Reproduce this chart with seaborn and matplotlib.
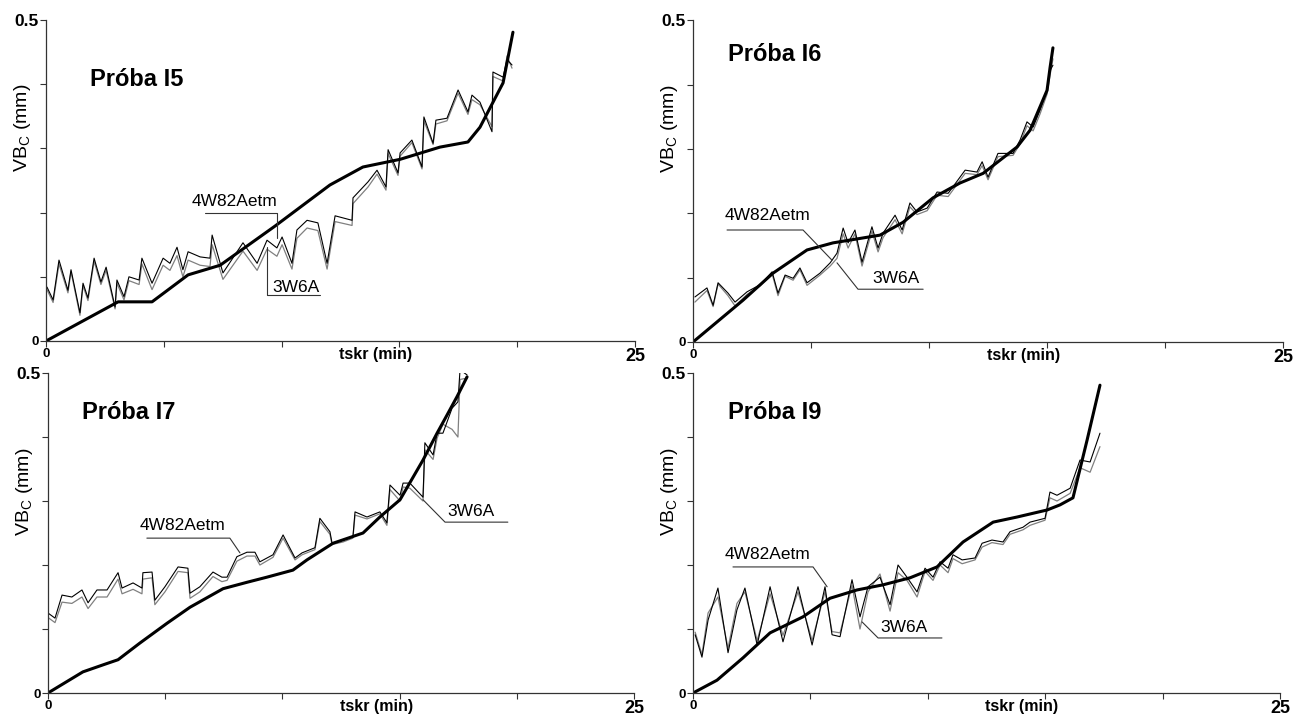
# Tool wear VB_C vs cutting time - measured vs two network models (4W82Aetm, 3W6A)

import matplotlib
matplotlib.use('Agg')
import matplotlib.pyplot as plt
import seaborn as sns

# ---- data: Próba I5 ----
i5_t_meas = [0, 3.06, 4.5, 6.03, 7.39, 9.72, 12.05, 13.45, 15.03, 16.72, 17.91, 18.42, 19.4, 19.82]
i5_vb_meas = [0, 0.061, 0.061, 0.103, 0.118, 0.179, 0.243, 0.271, 0.283, 0.302, 0.310, 0.333, 0.402, 0.481]
i5_t_model = [0.04, 0.30, 0.55, 0.93, 1.06, 1.44, 1.57, 1.78, 2.04, 2.33, 2.55, 2.93, 3.01, 3.31, 3.52,
              3.95, 4.07, 4.50, 4.97, 5.26, 5.56, 5.81, 6.03, 6.54, 6.96, 7.05, 7.51, 8.36, 8.96, 9.38,
              9.80, 10.02, 10.44, 10.65, 11.08, 11.54, 11.93, 12.27, 12.99, 13.03, 13.67, 14.05, 14.43,
              14.52, 14.94, 15.03, 15.53, 15.96, 16.04, 16.43, 16.55, 17.02, 17.49, 17.91, 18.08, 18.42,
              18.93, 18.97, 19.40, 19.57, 19.78]
i5_vb_4w = [0.084, 0.064, 0.126, 0.079, 0.111, 0.044, 0.090, 0.067, 0.129, 0.092, 0.115, 0.053, 0.095,
            0.069, 0.100, 0.095, 0.129, 0.090, 0.129, 0.121, 0.146, 0.111, 0.139, 0.131, 0.129, 0.165,
            0.106, 0.153, 0.121, 0.157, 0.145, 0.162, 0.121, 0.173, 0.188, 0.184, 0.121, 0.195, 0.188,
            0.223, 0.248, 0.266, 0.240, 0.298, 0.262, 0.293, 0.313, 0.271, 0.349, 0.308, 0.344, 0.347,
            0.391, 0.357, 0.383, 0.372, 0.326, 0.419, 0.411, 0.438, 0.430]
i5_vb_3w = [0.080, 0.060, 0.120, 0.075, 0.108, 0.040, 0.086, 0.063, 0.124, 0.088, 0.110, 0.050, 0.090,
            0.064, 0.094, 0.088, 0.120, 0.080, 0.118, 0.110, 0.133, 0.100, 0.126, 0.118, 0.116, 0.150,
            0.096, 0.140, 0.110, 0.143, 0.132, 0.150, 0.112, 0.160, 0.176, 0.172, 0.112, 0.186, 0.180,
            0.214, 0.240, 0.260, 0.235, 0.292, 0.258, 0.288, 0.309, 0.268, 0.343, 0.306, 0.338, 0.343,
            0.386, 0.353, 0.376, 0.368, 0.334, 0.412, 0.405, 0.444, 0.425]

# ---- data: Próba I6 ----
i6_t_meas = [0, 2.12, 3.39, 4.83, 5.93, 7.92, 8.90, 10.17, 11.31, 12.29, 13.73, 14.28, 15.0, 15.13, 15.25]
i6_vb_meas = [0, 0.065, 0.107, 0.143, 0.154, 0.166, 0.186, 0.224, 0.247, 0.262, 0.303, 0.329, 0.391, 0.427, 0.457]
i6_t_model = [0.08, 0.59, 0.85, 1.06, 1.48, 1.78, 2.29, 2.84, 3.35, 3.60, 3.90, 4.24, 4.53, 4.83, 5.38,
              5.81, 6.10, 6.36, 6.57, 6.86, 7.16, 7.58, 7.84, 8.05, 8.56, 8.86, 9.19, 9.49, 9.92, 10.34,
              10.81, 11.53, 12.03, 12.25, 12.50, 12.92, 13.56, 13.86, 14.15, 14.41, 14.70, 15.0, 15.13, 15.25]
i6_vb_4w = [0.070, 0.084, 0.057, 0.092, 0.076, 0.062, 0.078, 0.089, 0.109, 0.076, 0.104, 0.099, 0.115,
            0.092, 0.107, 0.123, 0.138, 0.177, 0.154, 0.174, 0.124, 0.179, 0.146, 0.169, 0.197, 0.174,
            0.216, 0.202, 0.208, 0.233, 0.231, 0.267, 0.264, 0.280, 0.256, 0.293, 0.293, 0.314, 0.342,
            0.334, 0.360, 0.391, 0.422, 0.430]
i6_vb_3w = [0.062, 0.080, 0.055, 0.090, 0.072, 0.056, 0.074, 0.087, 0.106, 0.072, 0.102, 0.096, 0.112,
            0.088, 0.104, 0.118, 0.130, 0.168, 0.146, 0.168, 0.118, 0.172, 0.140, 0.162, 0.190, 0.168,
            0.210, 0.198, 0.204, 0.228, 0.226, 0.262, 0.260, 0.274, 0.252, 0.288, 0.290, 0.308, 0.336,
            0.328, 0.354, 0.385, 0.415, 0.440]

# ---- data: Próba I7 ----
i7_t_meas = [0, 1.49, 2.43, 2.99, 3.92, 5.08, 6.06, 7.47, 8.49, 9.34, 10.45, 11.05, 12.16, 13.44, 14.16,
             15.02, 16.0, 16.6, 17.02, 17.45, 17.88]
i7_vb_meas = [0, 0.033, 0.045, 0.052, 0.078, 0.109, 0.134, 0.163, 0.173, 0.181, 0.192, 0.208, 0.234,
              0.250, 0.275, 0.302, 0.364, 0.406, 0.434, 0.463, 0.494]
i7_t_model = [0, 0.30, 0.60, 1.02, 1.45, 1.71, 2.09, 2.52, 2.99, 3.16, 3.63, 4.01, 4.05, 4.44, 4.56,
              4.99, 5.55, 5.97, 6.06, 6.48, 7.04, 7.42, 7.64, 8.06, 8.49, 8.83, 9.04, 9.60, 10.03, 10.54,
              10.84, 11.39, 11.60, 12.03, 12.12, 12.59, 13.01, 13.10, 13.61, 14.16, 14.46, 14.59, 15.02,
              15.15, 15.44, 16.0, 16.08, 16.43, 16.60, 16.85, 17.24, 17.49, 17.58, 17.88]
i7_vb_4w = [0.125, 0.117, 0.153, 0.150, 0.161, 0.141, 0.161, 0.161, 0.188, 0.164, 0.172, 0.164, 0.188,
            0.189, 0.145, 0.166, 0.197, 0.195, 0.156, 0.166, 0.189, 0.181, 0.181, 0.213, 0.220, 0.220,
            0.205, 0.216, 0.247, 0.211, 0.219, 0.227, 0.273, 0.252, 0.234, 0.239, 0.244, 0.283, 0.275,
            0.283, 0.266, 0.325, 0.309, 0.328, 0.328, 0.306, 0.391, 0.372, 0.406, 0.406, 0.445, 0.455,
            0.505, 0.497]
i7_vb_3w = [0.118, 0.110, 0.142, 0.140, 0.150, 0.132, 0.150, 0.150, 0.178, 0.155, 0.162, 0.155, 0.178,
            0.180, 0.138, 0.158, 0.190, 0.188, 0.148, 0.158, 0.182, 0.174, 0.176, 0.206, 0.214, 0.214,
            0.200, 0.212, 0.242, 0.208, 0.216, 0.224, 0.268, 0.248, 0.232, 0.236, 0.242, 0.278, 0.272,
            0.280, 0.262, 0.318, 0.300, 0.322, 0.320, 0.300, 0.380, 0.365, 0.398, 0.420, 0.412, 0.400,
            0.490, 0.492]

# ---- data: Próba I9 ----
i9_t_meas = [0, 1.02, 2.13, 3.28, 4.68, 5.83, 6.98, 8.09, 9.24, 10.39, 11.50, 12.78, 13.80, 15.08,
             15.63, 16.18, 16.78, 17.33]
i9_vb_meas = [0, 0.020, 0.055, 0.094, 0.119, 0.148, 0.161, 0.169, 0.180, 0.197, 0.236, 0.267, 0.275,
              0.286, 0.294, 0.305, 0.395, 0.481]
i9_t_model = [0.09, 0.38, 0.64, 1.06, 1.49, 1.87, 2.21, 2.73, 3.28, 3.83, 4.47, 5.07, 5.62, 5.92, 6.26,
              6.77, 7.11, 7.45, 7.96, 8.39, 8.73, 9.11, 9.54, 9.88, 10.22, 10.52, 10.86, 11.07, 11.46,
              12.01, 12.31, 12.73, 13.20, 13.50, 14.05, 14.35, 14.99, 15.20, 15.50, 16.06, 16.48, 16.91, 17.33]
i9_vb_4w = [0.091, 0.056, 0.114, 0.164, 0.063, 0.130, 0.164, 0.075, 0.166, 0.080, 0.166, 0.075, 0.166,
            0.091, 0.088, 0.177, 0.119, 0.166, 0.181, 0.138, 0.200, 0.181, 0.158, 0.195, 0.181, 0.205,
            0.195, 0.216, 0.208, 0.211, 0.234, 0.239, 0.236, 0.252, 0.259, 0.267, 0.273, 0.314, 0.309,
            0.320, 0.364, 0.361, 0.406]
i9_vb_3w = [0.095, 0.060, 0.125, 0.150, 0.070, 0.140, 0.158, 0.082, 0.155, 0.090, 0.158, 0.082, 0.158,
            0.096, 0.094, 0.168, 0.100, 0.158, 0.186, 0.128, 0.188, 0.176, 0.150, 0.190, 0.176, 0.200,
            0.188, 0.210, 0.202, 0.208, 0.228, 0.235, 0.232, 0.248, 0.255, 0.262, 0.270, 0.305, 0.300,
            0.312, 0.352, 0.345, 0.385]

x_ticks = [0, 5, 10, 15, 20, 25]
x_tick_labels = ['0', '', '', '', '', '25']
y_ticks = [0, 0.1, 0.2, 0.3, 0.4, 0.5]
y_tick_labels = ['0', '', '', '', '', '0.5']

sns.set_style('ticks')
plt.rcParams['font.family'] = ['Liberation Sans', 'DejaVu Sans']
plt.rcParams['mathtext.fontset'] = 'custom'
plt.rcParams['mathtext.rm'] = 'Liberation Sans'
plt.rcParams['text.color'] = 'black'
plt.rcParams['axes.labelcolor'] = 'black'
plt.rcParams['xtick.labelcolor'] = 'black'
plt.rcParams['ytick.labelcolor'] = 'black'

fig = plt.figure(figsize=(12.93, 7.2), dpi=100)

# axes rect, title pos, ylabel y, label positions + leader lines
panels = [
    dict(rect=[0.0356, 0.5264, 0.4555, 0.4458], name='Próba I5', title=(1.87, 0.408), ylab=0.664,
         t_meas=i5_t_meas, vb_meas=i5_vb_meas, t_mod=i5_t_model, vb4=i5_vb_4w, vb3=i5_vb_3w,
         lab4=(8.02, 0.218), lead4=([6.75, 9.80, 9.80], [0.199, 0.199, 0.160]),
         lab3=(10.61, 0.083), lead3=([9.38, 9.38, 11.63], [0.146, 0.072, 0.072])),
    dict(rect=[0.536, 0.525, 0.4563, 0.447], name='Próba I6', title=(1.48, 0.446), ylab=0.661,
         t_meas=i6_t_meas, vb_meas=i6_vb_meas, t_mod=i6_t_model, vb4=i6_vb_4w, vb3=i6_vb_3w,
         lab4=(3.14, 0.196), lead4=([1.44, 4.66, 5.89], [0.174, 0.174, 0.127]),
         lab3=(8.6, 0.098), lead3=([6.10, 6.99, 9.75], [0.123, 0.082, 0.082])),
    dict(rect=[0.0371, 0.0375, 0.4532, 0.4444], name='Próba I7', title=(1.45, 0.439), ylab=0.628,
         t_meas=i7_t_meas, vb_meas=i7_vb_meas, t_mod=i7_t_model, vb4=i7_vb_4w, vb3=i7_vb_3w,
         lab4=(5.76, 0.261), lead4=([4.22, 7.76, 8.19], [0.242, 0.242, 0.219]),
         lab3=(18.05, 0.284), lead3=([16.0, 16.94, 19.62], [0.302, 0.267, 0.267])),
    dict(rect=[0.536, 0.0375, 0.454, 0.4444], name='Próba I9', title=(1.49, 0.439), ylab=0.628,
         t_meas=i9_t_meas, vb_meas=i9_vb_meas, t_mod=i9_t_model, vb4=i9_vb_4w, vb3=i9_vb_3w,
         lab4=(3.19, 0.217), lead4=([1.70, 5.11, 5.71], [0.197, 0.197, 0.166]),
         lab3=(8.99, 0.102), lead3=([7.20, 7.88, 10.6], [0.111, 0.086, 0.086])),
]

for p in panels:
    ax = fig.add_axes(p['rect'])
    sns.lineplot(x=p['t_mod'], y=p['vb3'], ax=ax, color='#808080', linewidth=0.9,
                 sort=False, estimator=None)
    sns.lineplot(x=p['t_mod'], y=p['vb4'], ax=ax, color='black', linewidth=0.8,
                 sort=False, estimator=None)
    sns.lineplot(x=p['t_meas'], y=p['vb_meas'], ax=ax, color='black', linewidth=2.2,
                 sort=False, estimator=None)

    # labels with leader lines
    ax.plot(*p['lead4'], color='#333333', linewidth=0.8)
    ax.plot(*p['lead3'], color='#333333', linewidth=0.8)
    ax.text(*p['lab4'], '4W82Aetm', fontsize=12.5, ha='center', va='center')
    ax.text(*p['lab3'], '3W6A', fontsize=12.5, ha='center', va='center')
    ax.text(*p['title'], p['name'], fontsize=17, fontweight='bold', ha='left', va='center')

    ax.set_xlim(0, 25)
    ax.set_ylim(0, 0.5)
    ax.set_xticks(x_ticks)
    ax.set_xticklabels(x_tick_labels)
    ax.set_yticks(y_ticks)
    ax.set_yticklabels(y_tick_labels)
    ax.tick_params(length=4, width=0.8, color='#333333', pad=1)
    for lbl in ax.get_xticklabels():
        lbl.set_fontsize(13 if lbl.get_text() == '25' else 9.5)
        lbl.set_fontweight('bold')
    for lbl in ax.get_yticklabels():
        lbl.set_fontsize(12.5 if lbl.get_text() == '0.5' else 9.5)
        lbl.set_fontweight('bold')

    ax.set_xlabel('tskr (min)', fontsize=11.5, fontweight='bold')
    ax.xaxis.set_label_coords(0.56, -0.02)
    ax.set_ylabel(r'VB$_\mathrm{C}$ (mm)', fontsize=14)
    ax.yaxis.set_label_coords(-0.022, p['ylab'])

    sns.despine(ax=ax)
    for s in ['left', 'bottom']:
        ax.spines[s].set_color('#333333')
        ax.spines[s].set_linewidth(0.9)
    ax.set_facecolor('white')

fig.savefig('out.png', dpi=100, facecolor='white')
